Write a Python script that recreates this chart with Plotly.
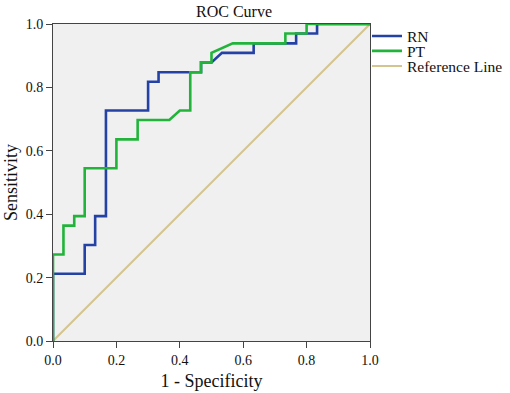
import plotly.graph_objects as go

# RN ROC curve points (1 - specificity, sensitivity)
rn_fpr = [0.0, 0.0, 0.1, 0.1, 0.133, 0.133, 0.167, 0.167, 0.3, 0.3, 0.333, 0.333,
          0.467, 0.467, 0.5, 0.533, 0.633, 0.633, 0.767, 0.767, 0.833, 0.833, 1.0]
rn_tpr = [0.0, 0.212, 0.212, 0.303, 0.303, 0.394, 0.394, 0.727, 0.727, 0.818, 0.818, 0.848,
          0.848, 0.879, 0.879, 0.909, 0.909, 0.939, 0.939, 0.970, 0.970, 1.0, 1.0]

# PT ROC curve points
pt_fpr = [0.0, 0.0, 0.033, 0.033, 0.067, 0.067, 0.1, 0.1, 0.2, 0.2, 0.267, 0.267,
          0.367, 0.4, 0.433, 0.433, 0.467, 0.467, 0.5, 0.5, 0.567, 0.733, 0.733,
          0.8, 0.8, 1.0]
pt_tpr = [0.0, 0.273, 0.273, 0.364, 0.364, 0.394, 0.394, 0.545, 0.545, 0.636, 0.636, 0.697,
          0.697, 0.727, 0.727, 0.848, 0.848, 0.879, 0.879, 0.909, 0.939, 0.939, 0.970,
          0.970, 1.0, 1.0]

ref_x = [0.0, 1.0]
ref_y = [0.0, 1.0]

tick_vals = [0.0, 0.2, 0.4, 0.6, 0.8, 1.0]
tick_text = ["0.0", "0.2", "0.4", "0.6", "0.8", "1.0"]

FONT = "Liberation Serif, Times New Roman, serif"
BLUE = "#2442a6"
GREEN = "#22b43a"
TAN = "#d4c48e"

fig = go.Figure()
fig.add_trace(go.Scatter(x=ref_x, y=ref_y, mode="lines", name="Reference Line",
                         line=dict(color=TAN, width=2), legend="legend4"))
fig.add_trace(go.Scatter(x=rn_fpr, y=rn_tpr, mode="lines", name="RN",
                         line=dict(color=BLUE, width=2.6), legend="legend2"))
fig.add_trace(go.Scatter(x=pt_fpr, y=pt_tpr, mode="lines", name="PT",
                         line=dict(color=GREEN, width=2.6), legend="legend3"))

leg_common = dict(x=0.9905, xanchor="left", yanchor="middle",
                  bgcolor="rgba(0,0,0,0)", font=dict(family=FONT, size=15.5, color="#111"),
                  itemwidth=30)

fig.update_layout(
    width=510, height=393,
    margin=dict(l=53, r=140, t=24, b=52, autoexpand=False),
    paper_bgcolor="white",
    plot_bgcolor="#f0f0f0",
    font=dict(family=FONT, color="#111"),
    title=dict(text="ROC Curve", font=dict(family=FONT, size=16, color="#111"),
               x=0.571, xref="paper", xanchor="center", y=0.985, yref="container",
               yanchor="top", pad=dict(t=0, b=0, l=0, r=0)),
    legend2=dict(y=0.961, **leg_common),
    legend3=dict(y=0.914, **leg_common),
    legend4=dict(y=0.866, **leg_common),
    xaxis=dict(range=[0, 1], tickvals=tick_vals, ticktext=tick_text,
               showgrid=False, zeroline=False, showline=True, mirror=True,
               linecolor="#444", linewidth=1, ticks="outside", ticklen=6, tickcolor="#444",
               tickfont=dict(family=FONT, size=14), automargin=False,
               title=dict(text="1 - Specificity", font=dict(family=FONT, size=18), standoff=7)),
    yaxis=dict(range=[0, 1], tickvals=tick_vals, ticktext=tick_text,
               showgrid=False, zeroline=False, showline=True, mirror=True,
               linecolor="#444", linewidth=1, ticks="outside", ticklen=6, tickcolor="#444",
               tickfont=dict(family=FONT, size=14), automargin=False,
               title=dict(text="Sensitivity", font=dict(family=FONT, size=18), standoff=3)),
)

fig.write_html("out.html", config={"displayModeBar": False},
               post_script="document.body.style.margin='0';")
